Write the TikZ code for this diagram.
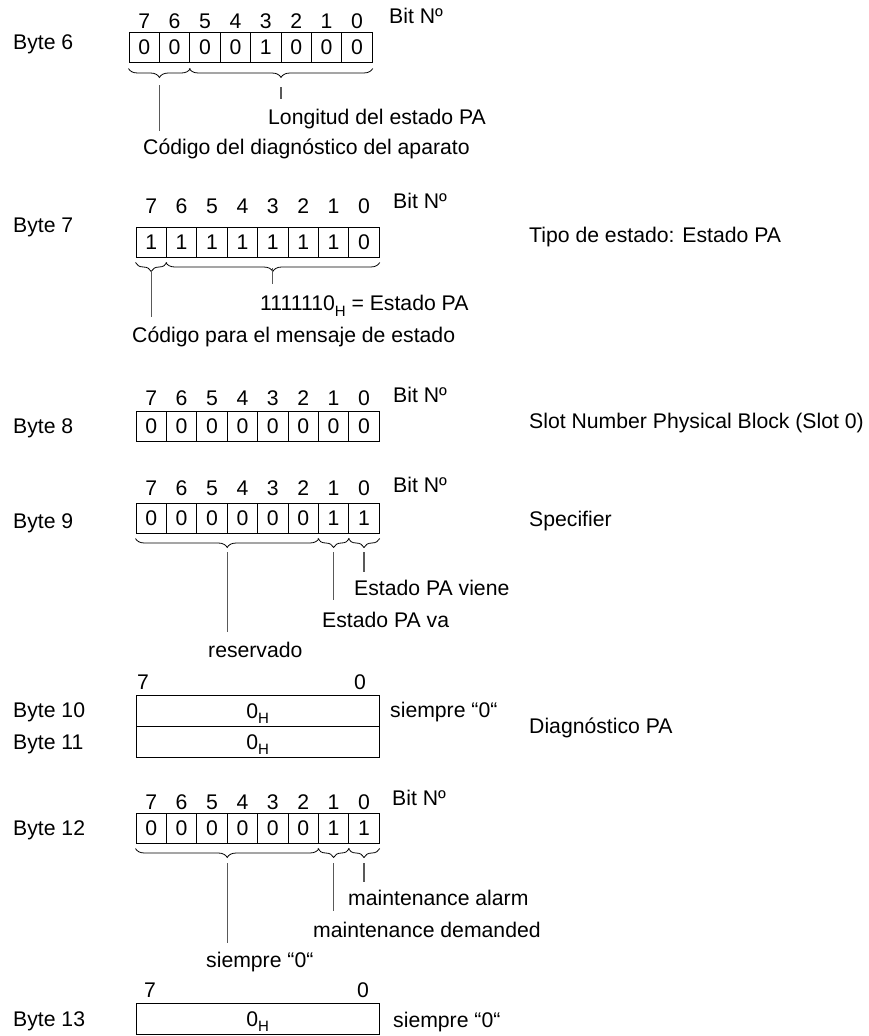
\documentclass[tikz,border=0pt]{standalone}
\usepackage{fontspec}
\setmainfont{Liberation Sans}
\usetikzlibrary{decorations.pathreplacing,positioning}

% subscript H for hex values
\newcommand{\hsub}{\raisebox{-0.28em}{\fontsize{15}{15}\selectfont H}}
% one byte as eight cells: name, left x, box top, digit row y, bits (7 first)
\newcommand{\bytebits}[5]{%
  \foreach \v [count=\k from 0] in {#5} {
    \pgfmathsetmacro{\cx}{#2+(\k+0.5)*30.4}
    \pgfmathtruncatemacro{\bn}{7-\k}
    \node[cell] (#1c\bn) at (\cx,#3+15) {\v};
    \node[bitnum] (#1n\bn) at (\cx,#4) {\bn};
  }%
}

\begin{document}
\begin{tikzpicture}[x=1pt, y=-1pt,
    every node/.style={font=\fontsize{21.2}{25}\selectfont, inner sep=0pt},
    txt/.style={anchor=west, text height=15pt, text depth=0pt},
    bitnum/.style={text height=15pt, text depth=0pt},
    cell/.style={draw, line width=1pt, minimum width=30.4pt, minimum height=30pt,
      text height=15pt, text depth=0pt},
    wide/.style={draw, line width=1pt, minimum width=243.2pt, minimum height=31pt,
      text height=15pt, text depth=0pt},
    brc/.style={decorate, decoration={brace, mirror, amplitude=9pt}, line width=0.8pt},
    lead/.style={draw=black!65, line width=1.2pt}]
  \useasboundingbox (0,0) rectangle (868,1036);

  % Byte 6
  \node[txt] (l6) at (13,42) {Byte 6};
  \bytebits{b6}{129}{32}{21}{0,0,0,0,1,0,0,0}
  \node[txt] (b6bit) at (389,16) {Bit Nº};
  \draw[brc] ([yshift=-6pt]b6c7.south west) -- ([yshift=-6pt]b6c6.south east);
  \draw[brc] ([yshift=-6pt]b6c5.south west) -- ([yshift=-6pt]b6c0.south east);
  \coordinate (b6a1) at (159.4,85);  \coordinate (b6a2) at (159.4,131);
  \coordinate (b6b1) at (281,87);    \coordinate (b6b2) at (281,99);
  \draw[lead] (b6a1) -- (b6a2);
  \draw[lead] (b6b1) -- (b6b2);
  \node[txt] (b6len) at (268,117) {Longitud del estado PA};
  \node[txt] (b6cod) at (143,147) {Código del diagnóstico del aparato};

  % Byte 7
  \node[txt] (l7) at (13,225) {Byte 7};
  \bytebits{b7}{136}{227}{206}{1,1,1,1,1,1,1,0}
  \node[txt] (b7bit) at (393,201) {Bit Nº};
  \draw[brc] ([yshift=-5pt]b7c7.south west) -- ([yshift=-5pt]b7c7.south east);
  \draw[brc] ([yshift=-5pt]b7c6.south west) -- ([yshift=-5pt]b7c0.south east);
  \coordinate (b7a1) at (151.2,270); \coordinate (b7a2) at (151.2,317);
  \coordinate (b7b1) at (272.8,268); \coordinate (b7b2) at (272.8,284);
  \draw[lead] (b7a1) -- (b7a2);
  \draw[lead] (b7b1) -- (b7b2);
  \node[txt] (b7val) at (260,303) {1111110\hsub{} = Estado PA};
  \node[txt] (b7cod) at (132,335) {Código para el mensaje de estado};
  \node[txt] (b7info) at (529,235) {Tipo de estado: Estado PA};

  % Byte 8
  \node[txt] (l8) at (13,426) {Byte 8};
  \bytebits{b8}{136}{411}{398}{0,0,0,0,0,0,0,0}
  \node[txt] (b8bit) at (393,395) {Bit Nº};
  \node[txt] (b8info) at (529,421) {Slot Number Physical Block (Slot 0)};

  % Byte 9
  \node[txt] (l9) at (13,521) {Byte 9};
  \bytebits{b9}{136}{503}{488}{0,0,0,0,0,0,1,1}
  \node[txt] (b9bit) at (393,485) {Bit Nº};
  \draw[brc] ([yshift=-5pt]b9c7.south west) -- ([yshift=-5pt]b9c2.south east);
  \draw[brc] ([yshift=-5pt]b9c1.south west) -- ([yshift=-5pt]b9c1.south east);
  \draw[brc] ([yshift=-5pt]b9c0.south west) -- ([yshift=-5pt]b9c0.south east);
  \coordinate (b9a1) at (227.2,552); \coordinate (b9a2) at (227.2,632);
  \coordinate (b9b1) at (333.6,552); \coordinate (b9b2) at (333.6,600);
  \coordinate (b9c1) at (364,552);   \coordinate (b9c2) at (364,572);
  \draw[lead] (b9a1) -- (b9a2);
  \draw[lead] (b9b1) -- (b9b2);
  \draw[lead] (b9c1) -- (b9c2);
  \node[txt] (b9viene) at (354,588) {Estado PA viene};
  \node[txt] (b9va) at (322,620) {Estado PA va};
  \node[txt] (b9res) at (208,650) {reservado};
  \node[txt] (b9info) at (529,519) {Specifier};

  % Byte 10 and 11
  \node[bitnum] (b10n7) at (143,682) {7};
  \node[bitnum] (b10n0) at (360,682) {0};
  \node[wide] (b10) at (257.6,710.5) {0\hsub};
  \node[wide] (b11) at (257.6,741.5) {0\hsub};
  \node[txt] (l10) at (13,710) {Byte 10};
  \node[txt] (l11) at (13,742) {Byte 11};
  \node[txt] (b10note) at (390,710) {siempre “0“};
  \node[txt] (b10info) at (529,726) {Diagnóstico PA};

  % Byte 12
  \node[txt] (l12) at (13,828) {Byte 12};
  \bytebits{b12}{136}{813}{802}{0,0,0,0,0,0,1,1}
  \node[txt] (b12bit) at (392,798) {Bit Nº};
  \draw[brc] ([yshift=-5pt]b12c7.south west) -- ([yshift=-5pt]b12c2.south east);
  \draw[brc] ([yshift=-5pt]b12c1.south west) -- ([yshift=-5pt]b12c1.south east);
  \draw[brc] ([yshift=-5pt]b12c0.south west) -- ([yshift=-5pt]b12c0.south east);
  \coordinate (b12a1) at (227.2,863); \coordinate (b12a2) at (227.2,943);
  \coordinate (b12b1) at (333.6,863); \coordinate (b12b2) at (333.6,911);
  \coordinate (b12c1) at (364,863);   \coordinate (b12c2) at (364,882);
  \draw[lead] (b12a1) -- (b12a2);
  \draw[lead] (b12b1) -- (b12b2);
  \draw[lead] (b12c1) -- (b12c2);
  \node[txt] (b12alarm) at (348,898) {maintenance alarm};
  \node[txt] (b12dem) at (313,930) {maintenance demanded};
  \node[txt] (b12zero) at (206,960) {siempre “0“};

  % Byte 13
  \node[bitnum] (b13n7) at (150,990) {7};
  \node[bitnum] (b13n0) at (363,990) {0};
  \node[wide] (b13) at (257.6,1018.5) {0\hsub};
  \node[txt] (l13) at (13,1019) {Byte 13};
  \node[txt] (b13note) at (393,1020) {siempre “0“};
\end{tikzpicture}
\end{document}
